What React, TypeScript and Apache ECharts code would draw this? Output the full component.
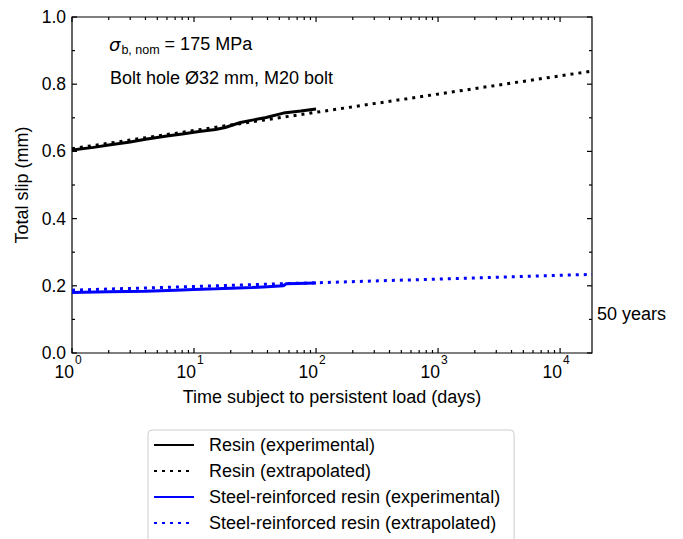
import React, { useEffect, useRef } from "react";
import * as echarts from "echarts";

// ---------- data ----------
const resinExpDays = [1, 1.5, 2, 3, 4, 6, 8, 11, 15, 18, 24, 30, 39, 54, 75, 100];
const resinExpSlip = [0.604, 0.612, 0.619, 0.628, 0.636, 0.646, 0.652, 0.659, 0.665, 0.671, 0.686, 0.693, 0.701, 0.714, 0.72, 0.726];

const resinExtDays = [1, 18262.5];
const resinExtSlip = [0.608, 0.839];

const steelExpDays = [1, 2, 4, 7, 10, 15, 20, 30, 40, 54, 57, 70, 100];
const steelExpSlip = [0.18, 0.182, 0.184, 0.187, 0.189, 0.191, 0.193, 0.195, 0.197, 0.2, 0.206, 0.207, 0.208];

const steelExtDays = [1, 18262.5];
const steelExtSlip = [0.187, 0.234];

const seriesNames = [
  "Resin (experimental)",
  "Resin (extrapolated)",
  "Steel-reinforced resin (experimental)",
  "Steel-reinforced resin (extrapolated)",
];

const xMin = 1;
const xMax = 18262.5; // 50 years in days
const xMajorTicks = [1, 10, 100, 1000, 10000];
const xMinorTicks = [
  2, 3, 4, 5, 6, 7, 8, 9,
  20, 30, 40, 50, 60, 70, 80, 90,
  200, 300, 400, 500, 600, 700, 800, 900,
  2000, 3000, 4000, 5000, 6000, 7000, 8000, 9000,
];
const yMajorTicks = [0, 0.2, 0.4, 0.6, 0.8, 1.0];
const yMinorTicks = [0.1, 0.3, 0.5, 0.7, 0.9];

const FONT = "'Liberation Sans', Arial, Helvetica, sans-serif";

const zip = (xs: number[], ys: number[]) => xs.map((x, i) => [x, ys[i]]);

export default function App() {
  const ref = useRef<HTMLDivElement>(null);

  useEffect(() => {
    if (!ref.current) return;
    const chart = echarts.init(ref.current, null, { renderer: "svg" });

    const tickData = [
      ...xMajorTicks.map((v) => [v, 0.5, 0, 1]),
      ...xMinorTicks.map((v) => [v, 0.5, 0, 0]),
      ...yMajorTicks.map((v) => [10, v, 1, 1]),
      ...yMinorTicks.map((v) => [10, v, 1, 0]),
    ];

    const tickStyle = { stroke: "#000", lineWidth: 1.2 };

    const option: any = {
      animation: false,
      backgroundColor: "#fff",
      grid: {
        left: 72,
        right: 91,
        top: 17,
        bottom: 186,
        show: true,
        borderColor: "#000",
        borderWidth: 1.2,
        backgroundColor: "transparent",
      },
      xAxis: {
        type: "log",
        logBase: 10,
        min: xMin,
        max: xMax,
        axisLine: { show: false },
        axisTick: { show: false },
        splitLine: { show: false },
        minorTick: { show: false },
        name: "Time subject to persistent load (days)",
        nameLocation: "middle",
        nameGap: 35,
        nameTextStyle: { fontSize: 18, fontFamily: FONT, color: "#000" },
        axisLabel: {
          margin: 10,
          showMaxLabel: false,
          formatter: (v: number) => {
            const e = Math.round(Math.log10(v));
            if (Math.abs(Math.log10(v) - e) > 1e-6) return "";
            return `{b|10}{s|${e}}`;
          },
          rich: {
            b: { fontSize: 17.5, lineHeight: 18, verticalAlign: "bottom", fontFamily: FONT, color: "#000" },
            s: { fontSize: 12, lineHeight: 12, padding: [0, 8, 15, 1], verticalAlign: "bottom", fontFamily: FONT, color: "#000" },
          },
        },
      },
      yAxis: {
        type: "value",
        min: 0,
        max: 1,
        interval: 0.2,
        axisLine: { show: false },
        axisTick: { show: false },
        splitLine: { show: false },
        name: "Total slip (mm)",
        nameLocation: "middle",
        nameGap: 37,
        nameTextStyle: { fontSize: 18, fontFamily: FONT, color: "#000" },
        axisLabel: {
          margin: 6,
          fontSize: 17.5,
          fontFamily: FONT,
          color: "#000",
          formatter: (v: number) => v.toFixed(1),
        },
      },
      legend: {
        type: "plain",
        orient: "vertical",
        left: 148,
        top: 430,
        height: 150,
        data: seriesNames,
        itemWidth: 40,
        itemHeight: 20,
        itemGap: 6,
        padding: [5, 14, 24, 5],
        borderColor: "#cccccc",
        borderWidth: 1,
        borderRadius: 4,
        backgroundColor: "#fff",
        itemStyle: { opacity: 0 },
        textStyle: { fontSize: 18, fontFamily: FONT, color: "#000", lineHeight: 20, padding: [0, 0, 0, 10] },
      },
      graphic: [
        {
          type: "text",
          x: 109,
          y: 35,
          style: {
            text: "{sig|σ}{sub|b, nom}{n| = 175 MPa}",
            verticalAlign: "top",
            align: "left",
            rich: {
              sig: { fontSize: 18, lineHeight: 18, fontStyle: "italic", fontFamily: "'DejaVu Sans', sans-serif", verticalAlign: "top", fill: "#000" },
              sub: { fontSize: 12.5, lineHeight: 12.5, padding: [8, 0, 0, 1], fontFamily: FONT, verticalAlign: "top", fill: "#000" },
              n: { fontSize: 18, lineHeight: 18, fontFamily: FONT, verticalAlign: "top", fill: "#000" },
            },
          },
        },
        {
          type: "text",
          x: 110,
          y: 78,
          style: {
            text: "Bolt hole Ø32 mm, M20 bolt",
            fontSize: 18,
            fontFamily: FONT,
            fill: "#000",
            verticalAlign: "middle",
            align: "left",
          },
        },
        {
          type: "text",
          x: 597,
          y: 314,
          style: {
            text: "50 years",
            fontSize: 18,
            fontFamily: FONT,
            fill: "#000",
            verticalAlign: "middle",
            align: "left",
          },
        },
      ],
      series: [
        {
          name: seriesNames[0],
          type: "line",
          data: zip(resinExpDays, resinExpSlip),
          showSymbol: false,
          symbol: "none",
          lineStyle: { color: "#000", width: 3 },
          itemStyle: { color: "#000" },
          z: 2,
        },
        {
          name: seriesNames[1],
          type: "line",
          data: zip(resinExtDays, resinExtSlip),
          showSymbol: false,
          symbol: "none",
          lineStyle: { color: "#000", width: 3, type: [3, 5] },
          itemStyle: { color: "#000" },
          z: 3,
        },
        {
          name: seriesNames[2],
          type: "line",
          data: zip(steelExpDays, steelExpSlip),
          showSymbol: false,
          symbol: "none",
          lineStyle: { color: "#0000ff", width: 3 },
          itemStyle: { color: "#0000ff" },
          z: 2,
        },
        {
          name: seriesNames[3],
          type: "line",
          data: zip(steelExtDays, steelExtSlip),
          showSymbol: false,
          symbol: "none",
          lineStyle: { color: "#0000ff", width: 3, type: [3, 5] },
          itemStyle: { color: "#0000ff" },
          z: 3,
        },
        {
          type: "custom",
          silent: true,
          clip: false,
          z: 10,
          data: tickData,
          encode: { x: 0, y: 1 },
          renderItem: (params: any, api: any) => {
            const cs = params.coordSys;
            const kind = api.value(2);
            const len = api.value(3) ? 5 : 3;
            if (kind === 0) {
              const px = api.coord([api.value(0), 0.5])[0];
              const yb = cs.y + cs.height;
              return {
                type: "group",
                children: [
                  { type: "line", shape: { x1: px, y1: yb, x2: px, y2: yb - len }, style: tickStyle },
                  { type: "line", shape: { x1: px, y1: cs.y, x2: px, y2: cs.y + len }, style: tickStyle },
                ],
              };
            }
            const py = api.coord([10, api.value(1)])[1];
            const xr = cs.x + cs.width;
            return {
              type: "group",
              children: [
                { type: "line", shape: { x1: cs.x, y1: py, x2: cs.x + len, y2: py }, style: tickStyle },
                { type: "line", shape: { x1: xr, y1: py, x2: xr - len, y2: py }, style: tickStyle },
              ],
            };
          },
        },
      ],
    };

    chart.setOption(option);
    return () => chart.dispose();
  }, []);

  return (
    <div
      ref={ref}
      style={{ position: "absolute", left: 0, top: 0, width: 683, height: 539 }}
    />
  );
}
